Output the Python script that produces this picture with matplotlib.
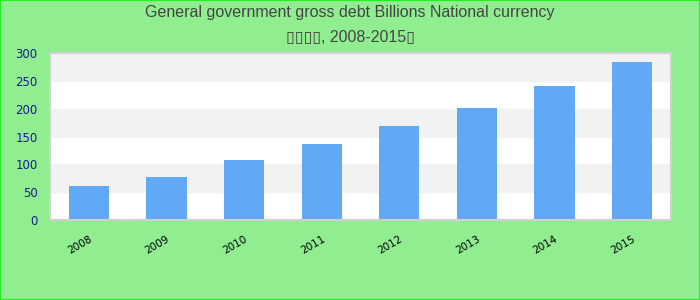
import matplotlib.pyplot as plt
from matplotlib.patches import Rectangle

years = ['2008', '2009', '2010', '2011', '2012', '2013', '2014', '2015']
debt = [61, 77, 108, 137, 169, 202, 241, 284]
y_ticks = [0, 50, 100, 150, 200, 250, 300]

fig = plt.figure(figsize=(7, 3), dpi=100, facecolor='#90ee90')
ax = fig.add_axes([50 / 700, 80 / 300, 621 / 700, 167 / 300])
ax.set_facecolor('white')

# alternating horizontal bands
for i in range(len(y_ticks) - 1):
    if i % 2 == 1:
        ax.axhspan(y_ticks[i], y_ticks[i + 1], color='#f2f2f2', zorder=0)

x = range(len(years))
ax.bar(x, debt, width=0.52, color='#61a8f5', zorder=2)

ax.set_xlim(-0.5, len(years) - 0.5)
ax.set_ylim(0, 300)
ax.set_yticks(y_ticks)
ax.set_yticklabels([str(v) for v in y_ticks], color='#1a1a8c', fontsize=8.5)
ax.set_xticks(list(x))
ax.set_xticklabels(years, rotation=30, fontsize=7.5, color='black',
                   ha='right', rotation_mode='anchor')
ax.tick_params(axis='both', length=0)
ax.tick_params(axis='y', pad=9)
ax.tick_params(axis='x', pad=10)
for s in ax.spines.values():
    s.set_color('#d0d0d0')
    s.set_linewidth(1.5)

title_font = ['Liberation Sans', 'DejaVu Sans']
fig.text(0.5, 1 - 13 / 300, 'General government gross debt Billions National currency',
         ha='center', va='center', fontsize=11.5, color='#444444', family=title_font)
fig.text(0.5, 1 - 37 / 300, '\u25af\u25af\u25af\u25af, 2008-2015\u25af',
         ha='center', va='center', fontsize=11.5, color='#444444', family=title_font)

fig.add_artist(Rectangle((0, 0), 1, 1, transform=fig.transFigure, fill=False,
                         edgecolor='#22ee22', linewidth=1.5))

fig.savefig('out.png', dpi=100, facecolor=fig.get_facecolor())
